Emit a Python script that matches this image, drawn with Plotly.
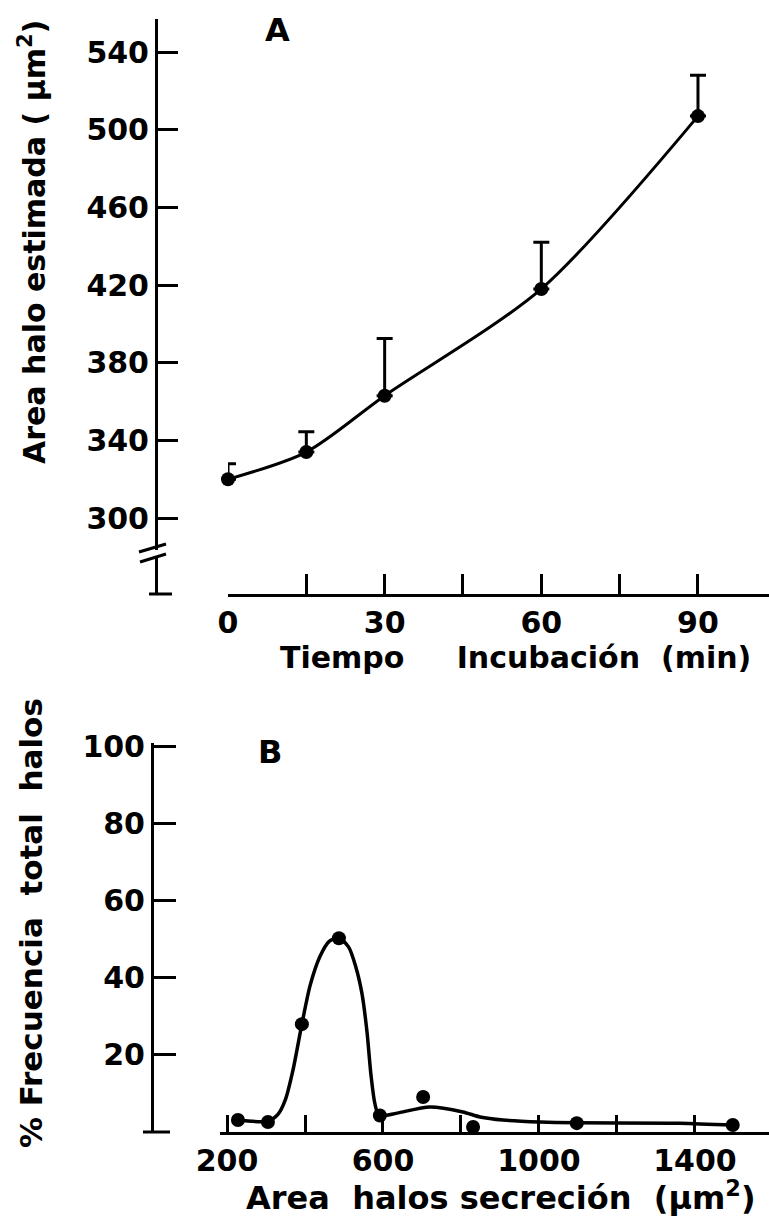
import plotly.graph_objects as go

W, H = 769, 1216

# ---------------- Panel A data ----------------
time_min = [0, 15, 30, 60, 90]
area_halo = [320, 334, 363, 418, 507]
area_err = [8, 10.5, 29.5, 24, 21]
x_ticks_a = [0, 30, 60, 90]
x_minor_a = [15, 45, 75]
y_ticks_a = [300, 340, 380, 420, 460, 500, 540]

# ---------------- Panel B data ----------------
area_sec = [228, 305, 392, 487, 592, 703, 831, 1097, 1497]
freq_pct = [3.1, 2.6, 28, 50.3, 4.3, 9.1, 1.3, 2.3, 1.8]
# hand-drawn smoothing curve
curve_x = [228, 305, 330, 350, 369, 392, 413, 438, 462, 487, 512, 530, 546, 559, 569, 579, 590,
           636, 720, 805, 849, 908, 1003, 1097, 1361, 1497]
curve_y = [3.1, 2.8, 4.5, 8.5, 16, 28, 38, 45.5, 49.5, 50.5, 48, 43, 36, 26, 15, 7.5, 4.2,
           4.9, 6.5, 5.2, 3.9, 3.1, 2.6, 2.4, 2.3, 1.8]
x_ticks_b = [200, 600, 1000, 1400]
x_minor_b = [400, 800, 1200]
y_ticks_b = [20, 40, 60, 80, 100]


def px(x):
    return x / W


def py(y):
    return 1 - y / H


FONT = "DejaVu Sans"
BLACK = "black"

fig = go.Figure()

# Panel A
fig.add_trace(go.Scatter(
    x=time_min, y=area_halo, mode="lines+markers",
    line=dict(color=BLACK, width=3, shape="spline", smoothing=0.8),
    marker=dict(color=BLACK, size=14),
    error_y=dict(type="data", symmetric=False, array=area_err,
                 arrayminus=[0] * len(area_err), color=BLACK, thickness=3, width=8),
    cliponaxis=False, xaxis="x", yaxis="y", showlegend=False,
))

# Panel B
fig.add_trace(go.Scatter(
    x=curve_x, y=curve_y, mode="lines",
    line=dict(color=BLACK, width=3.5, shape="spline", smoothing=0.7),
    cliponaxis=False, xaxis="x2", yaxis="y2", showlegend=False,
))
fig.add_trace(go.Scatter(
    x=area_sec, y=freq_pct, mode="markers",
    marker=dict(color=BLACK, size=14),
    cliponaxis=False, xaxis="x2", yaxis="y2", showlegend=False,
))

tickfont = dict(family=FONT, size=30, color=BLACK, weight="bold")

common = dict(showline=True, linewidth=3, linecolor=BLACK, tickwidth=3, tickcolor=BLACK,
              showgrid=False, zeroline=False, tickfont=tickfont, ticks="inside",
              automargin=False)

fig.update_layout(
    width=W, height=H, autosize=False,
    margin=dict(l=0, r=0, t=0, b=0, pad=0, autoexpand=False),
    paper_bgcolor="white", plot_bgcolor="white",
    font=dict(family=FONT, color=BLACK),
    xaxis=dict(domain=[px(228), 1], anchor="y", range=[0, 103.6],
               tickvals=x_ticks_a, ticklen=20,
               minor=dict(tickvals=x_minor_a, ticks="inside", ticklen=20, tickwidth=3,
                          tickcolor=BLACK, showgrid=False),
               **common),
    yaxis=dict(domain=[py(594), py(19)], anchor="free", position=px(156),
               range=[260.9, 557], tickvals=y_ticks_a, ticklen=20, **common),
    xaxis2=dict(domain=[px(220), 1], anchor="y2", range=[182, 1590],
                tickvals=x_ticks_b, ticklen=17,
                minor=dict(tickvals=x_minor_b, ticks="inside", ticklen=17, tickwidth=3,
                           tickcolor=BLACK, showgrid=False),
                **common),
    yaxis2=dict(domain=[py(1132), py(743)], anchor="free", position=px(152),
                range=[0, 101], tickvals=y_ticks_b, ticklen=22, **common),
)

shapes = [
    # foot of axis A
    dict(type="line", xref="paper", yref="paper", x0=px(149), x1=px(172), y0=py(594), y1=py(594),
         line=dict(color=BLACK, width=3)),
    # axis break A
    dict(type="line", xref="paper", yref="paper", x0=px(156), x1=px(156), y0=py(550), y1=py(557),
         line=dict(color="white", width=6)),
    dict(type="line", xref="paper", yref="paper", x0=px(139), x1=px(166), y0=py(552), y1=py(544),
         line=dict(color=BLACK, width=3)),
    dict(type="line", xref="paper", yref="paper", x0=px(140), x1=px(166), y0=py(562), y1=py(554),
         line=dict(color=BLACK, width=3)),
    # foot of axis B
    dict(type="line", xref="paper", yref="paper", x0=px(143), x1=px(170), y0=py(1132), y1=py(1132),
         line=dict(color=BLACK, width=3)),
]
fig.update_layout(shapes=shapes)

NB = "\u00a0"
annots = [
    dict(text="A", x=px(277), y=py(30), size=32, angle=0),
    dict(text="B", x=px(270), y=py(752), size=32, angle=0),
    dict(text="Area halo estimada ( µm<sup>2</sup>)", x=px(32), y=py(242), size=30, angle=-90),
    dict(text="Tiempo" + NB * 5 + "Incubación" + NB * 2 + "(min)", x=px(515), y=py(657), size=30, angle=0),
    dict(text="%" + NB + "Frecuencia" + NB * 2 + "total" + NB * 2 + "halos", x=px(31), y=py(923), size=31, angle=-90),
    dict(text="Area" + NB * 2 + "halos" + NB + "secreción" + NB * 2 + "(µm<sup>2</sup>)", x=px(501), y=py(1196), size=32, angle=0),
]
for a in annots:
    fig.add_annotation(
        text=a["text"], x=a["x"], y=a["y"], xref="paper", yref="paper",
        xanchor="center", yanchor="middle", showarrow=False, textangle=a["angle"],
        font=dict(family=FONT, size=a["size"], color=BLACK, weight="bold"),
    )

fig.write_html("out.html")
